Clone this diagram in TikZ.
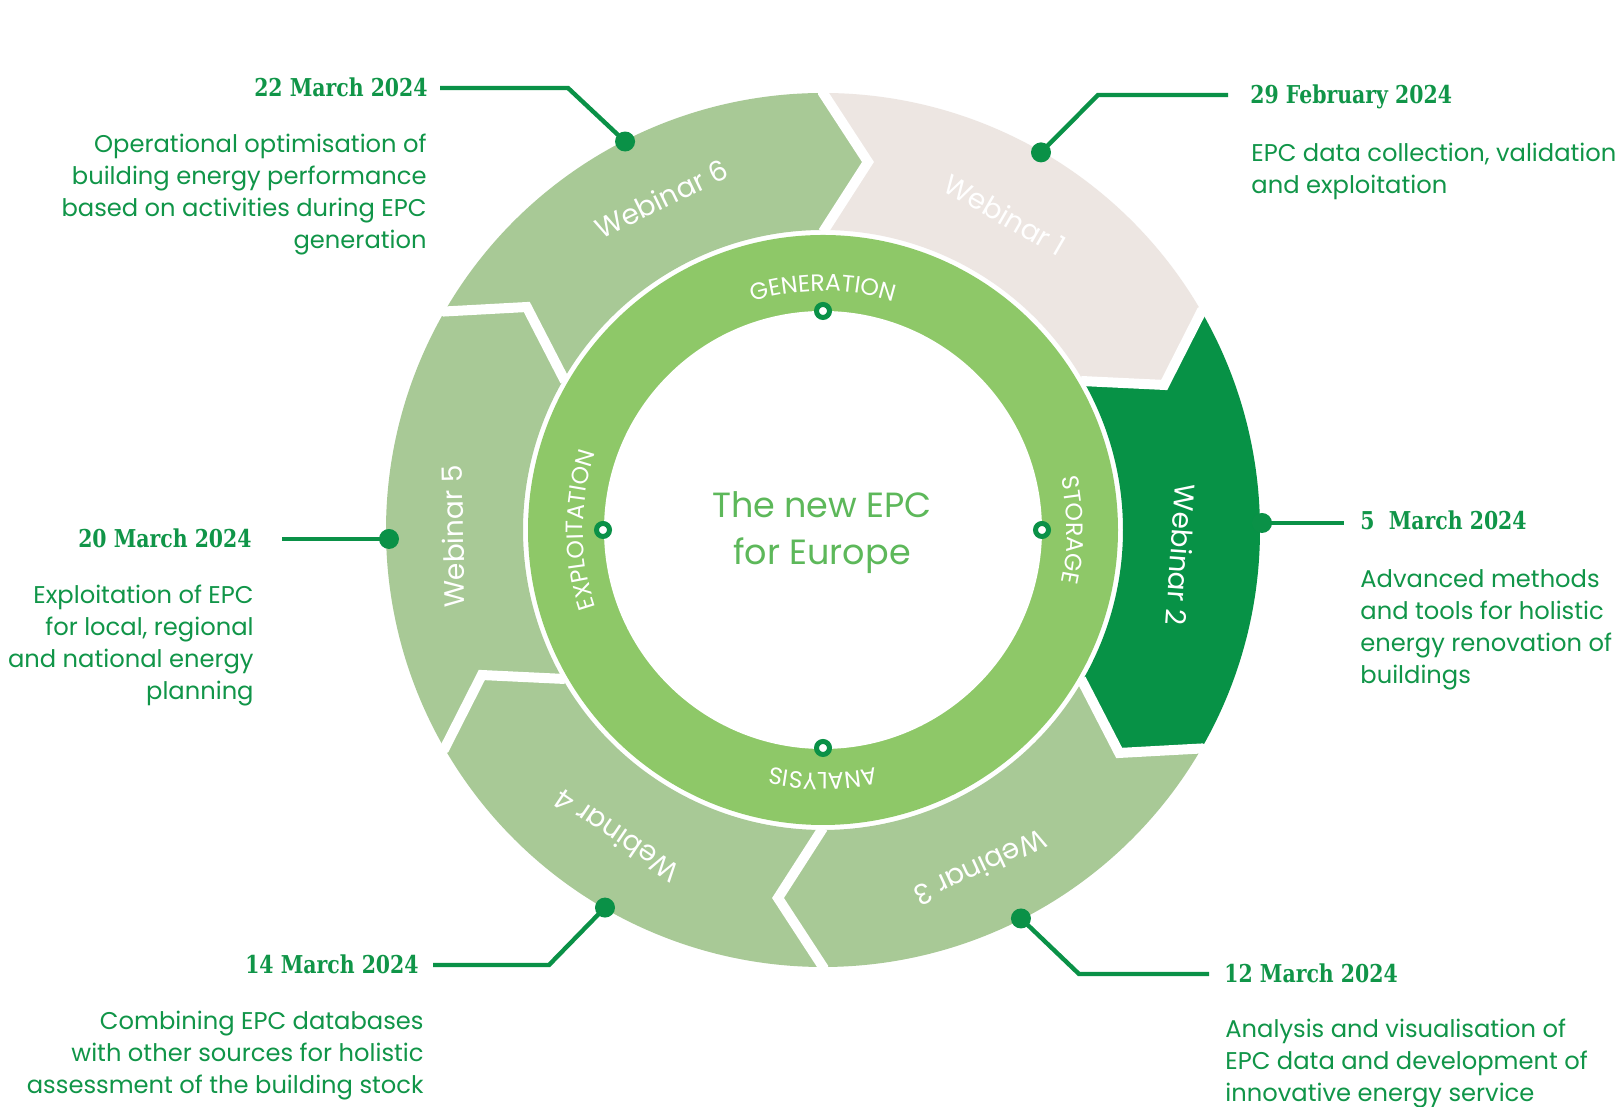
\documentclass[tikz,border=0pt]{standalone}
\usepackage{fontspec}
\setmainfont{Poppins}
\newfontfamily\datefont[FakeStretch=0.83]{DejaVu Serif}
\usetikzlibrary{calc,decorations.text}
\definecolor{sage}{HTML}{A8C996}
\definecolor{beigeseg}{HTML}{EDE6E2}
\definecolor{darkseg}{HTML}{079246}
\definecolor{ringgreen}{HTML}{8EC868}
\definecolor{leadgreen}{HTML}{0A9147}
\definecolor{txtgreen}{HTML}{109548}
\definecolor{centergreen}{HTML}{5DB85A}
\newcommand\ringlabelfont{\fontsize{11.8}{13}\selectfont}
\begin{document}
\begin{tikzpicture}[x=0.5pt,y=0.5pt,
  leader/.style={draw=leadgreen, line width=2.2pt},
  leaderdot/.style={circle, fill=leadgreen, minimum size=10pt, inner sep=0pt},
  ringdot/.style={circle, draw=leadgreen, line width=2.5pt, fill=white, minimum size=6.5pt, inner sep=0pt},
  datelabel/.style={font=\datefont\bfseries\fontsize{12.3}{14}\selectfont, text=txtgreen, inner sep=0pt},
  desc/.style={font=\fontsize{12.1}{16}\selectfont, text=txtgreen, inner sep=0pt},
  weblabel/.style={font=\fontsize{14}{16}\selectfont, text=white, inner sep=0pt},
  ringtext/.style={decorate, decoration={text along path, text align=center, text color=white, text={|\ringlabelfont|#1}}}
]
\useasboundingbox (0,0) rectangle (1624,1107);
\fill[white] (0,0) rectangle (1624,1107);
\coordinate (C) at (823,577);
% arrow segments
\foreach \a/\col in {90/beigeseg, 30/darkseg, -30/sage, -90/sage, -150/sage, 150/sage}{
  \fill[\col] ($(C)+(\a:437)$) arc[start angle=\a, end angle=\a-60, radius=437]
    -- ($(C)+(\a-60:368)+(\a-150:45)$) -- ($(C)+(\a-60:300)$)
    arc[start angle=\a-60, end angle=\a, radius=300]
    -- ($(C)+(\a:368)+(\a-90:45)$) -- cycle;
}
\foreach \b in {90,30,-30,-90,-150,150}{
  \draw[white, line width=5pt] ($(C)+(\b:452)$) -- ($(C)+(\b:437)$) -- ($(C)+(\b:368)+(\b-90:45)$) -- ($(C)+(\b:298)$);
}
% inner ring
\fill[ringgreen] (C) circle[radius=295];
\fill[white] (C) circle[radius=219];
\path[ringtext=GENERATION] ($(C)+(120:239)$) arc[start angle=120, end angle=60, radius=239];
\path[ringtext=STORAGE] ($(C)+(30:244)$) arc[start angle=30, end angle=-30, radius=244];
\path[ringtext=ANALYSIS] ($(C)+(-60:243)$) arc[start angle=-60, end angle=-120, radius=243];
\path[ringtext=EXPLOITATION] ($(C)+(210:240)$) arc[start angle=210, end angle=150, radius=240];
\node[ringdot] (rdg) at ($(C)+(90:219)$) {};
\node[ringdot] (rds) at ($(C)+(0:219)$) {};
\node[ringdot] (rda) at ($(C)+(-90:218)$) {};
\node[ringdot] (rde) at ($(C)+(180:220)$) {};
% centre text
\node[font=\fontsize{17.5}{23.5}\selectfont, text=centergreen, inner sep=0pt, anchor=base] (title) at (822,589)
  {\begin{tabular}[t]{@{}c@{}}The new EPC\\for Europe\end{tabular}};
% webinar labels
\node[weblabel, rotate=26] (w6) at ($(C)+(116:369)$) {Webinar 6};
\node[weblabel, rotate=-30] (w1) at ($(C)+(60:364)$) {Webinar 1};
\node[weblabel, rotate=-94] (w2) at ($(C)+(-4:359)$) {Webinar 2};
\node[weblabel, rotate=-155] (w3) at ($(C)+(-65:373)$) {Webinar 3};
\node[weblabel, rotate=146] (w4) at ($(C)+(-124:369)$) {Webinar 4};
\node[weblabel, rotate=91] (w5) at ($(C)+(181:370)$) {Webinar 5};
% leader dots
\node[leaderdot] (d6) at ($(C)+(117:436)$) {};
\node[leaderdot] (d1) at ($(C)+(60:436)$) {};
\node[leaderdot] (d2) at (1262,584) {};
\node[leaderdot] (d3) at ($(C)+(-63:436)$) {};
\node[leaderdot] (d4) at ($(C)+(-120:436)$) {};
\node[leaderdot] (d5) at (389,568) {};
% leader bends and ends
\coordinate (b6) at (568,1019); \coordinate (e6) at (440,1019);
\coordinate (b1) at (1098,1012); \coordinate (e1) at (1228,1012);
\coordinate (e2) at (1344,584);
\coordinate (b3) at (1079,133); \coordinate (e3) at (1209,133);
\coordinate (b4) at (549,142); \coordinate (e4) at (433,142);
\coordinate (e5) at (282,568);
\draw[leader] (d6.center) -- (b6) -- (e6);
\draw[leader] (d1.center) -- (b1) -- (e1);
\draw[leader] (d2.center) -- (e2);
\draw[leader] (d3.center) -- (b3) -- (e3);
\draw[leader] (d4.center) -- (b4) -- (e4);
\draw[leader] (d5.center) -- (e5);
% dates
\node[datelabel, anchor=base east] (dt6) at (428,1010) {22 March 2024};
\node[datelabel, anchor=base west] (dt1) at (1250,1003) {29 February 2024};
\node[datelabel, anchor=base west] (dt2) at (1360,577) {5~~March 2024};
\node[datelabel, anchor=base west] (dt3) at (1224,124) {12 March 2024};
\node[datelabel, anchor=base east] (dt4) at (419,133) {14 March 2024};
\node[datelabel, anchor=base east] (dt5) at (252,559) {20 March 2024};
% descriptions
\node[desc, anchor=base east] (tx6) at (427,954)
  {\begin{tabular}[t]{@{}r@{}}Operational optimisation of\\building energy performance\\based on activities during EPC\\generation\end{tabular}};
\node[desc, anchor=base west] (tx1) at (1251,945)
  {\begin{tabular}[t]{@{}l@{}}EPC data collection, validation\\and exploitation\end{tabular}};
\node[desc, anchor=base west] (tx2) at (1360,519)
  {\begin{tabular}[t]{@{}l@{}}Advanced methods\\and tools for holistic\\energy renovation of\\buildings\end{tabular}};
\node[desc, anchor=base west] (tx3) at (1225,69)
  {\begin{tabular}[t]{@{}l@{}}Analysis and visualisation of\\EPC data and development of\\innovative energy service\end{tabular}};
\node[desc, anchor=base east] (tx4) at (424,77)
  {\begin{tabular}[t]{@{}r@{}}Combining EPC databases\\with other sources for holistic\\assessment of the building stock\end{tabular}};
\node[desc, anchor=base east] (tx5) at (254,503)
  {\begin{tabular}[t]{@{}r@{}}Exploitation of EPC\\for local, regional\\and national energy\\planning\end{tabular}};
\end{tikzpicture}
\end{document}
